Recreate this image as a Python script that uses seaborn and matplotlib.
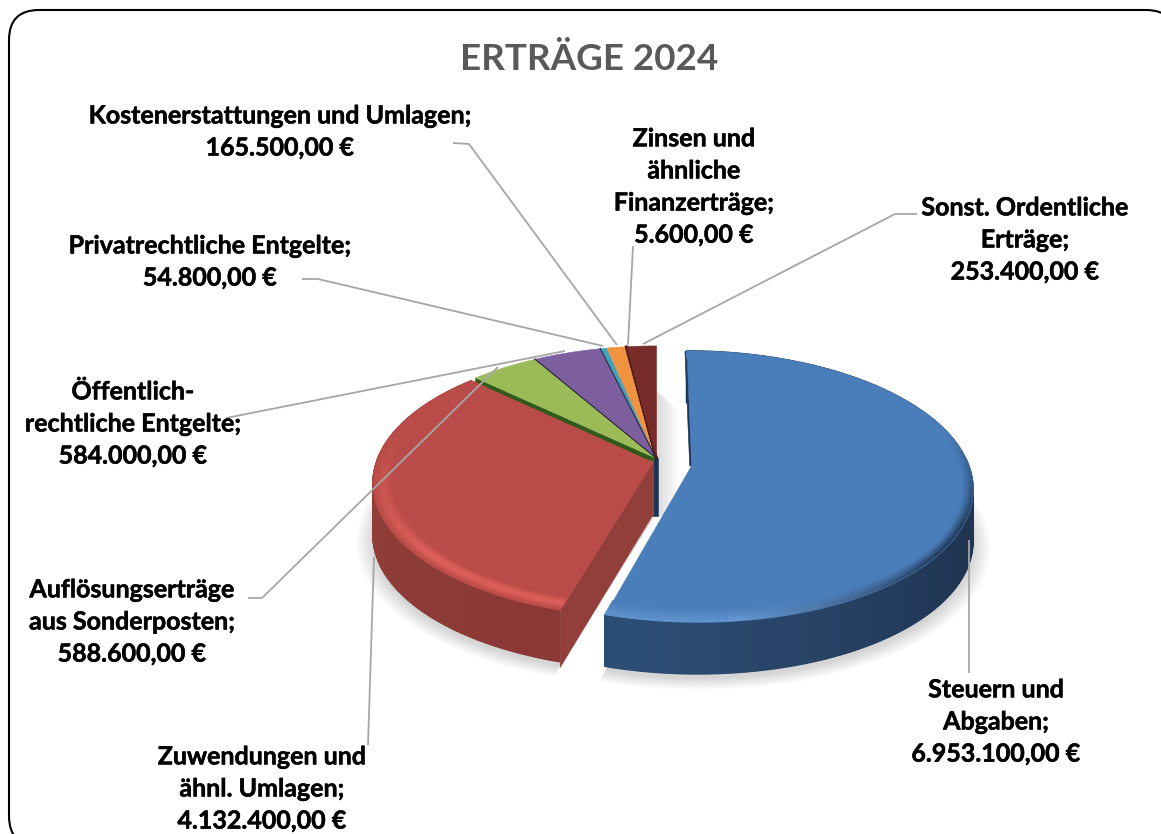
import numpy as np
import matplotlib
matplotlib.use("Agg")
import matplotlib.pyplot as plt
import matplotlib.patheffects as pe
from matplotlib.collections import PolyCollection
from matplotlib.colors import to_rgb
from matplotlib.patches import FancyBboxPatch
import seaborn as sns

# ---- data -------------------------------------------------------------
categories = ["Steuern und\nAbgaben;", "Zuwendungen und\nähnl. Umlagen;",
              "Auflösungserträge\naus Sonderposten;", "Öffentlich-\nrechtliche Entgelte;",
              "Privatrechtliche Entgelte;", "Kostenerstattungen und Umlagen;",
              "Zinsen und\nähnliche\nFinanzerträge;", "Sonst. Ordentliche\nErträge;"]
values = [6953100.0, 4132400.0, 588600.0, 584000.0, 54800.0, 165500.0, 5600.0, 253400.0]
value_labels = ["6.953.100,00 €", "4.132.400,00 €", "588.600,00 €", "584.000,00 €",
                "54.800,00 €", "165.500,00 €", "5.600,00 €", "253.400,00 €"]
title_text = "ERTRÄGE 2024"

# ---- style ------------------------------------------------------------
sns.set_theme(style="white")
plt.rcParams["font.family"] = ["Lato", "DejaVu Sans"]
palette = sns.color_palette(["#4a7ebb", "#b94c48", "#9bbb59", "#7d5fa0",
                             "#3fa3bd", "#f0923f", "#4d1a18", "#772c2a"])
FS = 18.0
W, H = 1161, 834

fig = plt.figure(figsize=(W / 100, H / 100), dpi=100)
ax = fig.add_axes([0, 0, 1, 1])
ax.set_xlim(0, W)
ax.set_ylim(H, 0)
ax.axis("off")

ax.add_patch(FancyBboxPatch((39, 40), 1107, 776, boxstyle="round,pad=30,rounding_size=30",
                            fc="white", ec="black", lw=1.5, zorder=0))

# ---- perspective model of the pie ---------------------------------------
CX, CY, A, B, K, DEPTH = 656.0, 458.0, 275.0, 130.0, 0.155, 52.0
# slice offsets in the pie's ground plane (blue and red are pulled out)
offset = {0: (0.127, -0.055), 1: (-0.012, -0.03)}


def project(theta, r, i, z=0.0):
    """theta in degrees clockwise from 12 o'clock, r in pie radii."""
    t = np.radians(theta)
    ox, oy = offset.get(i, (0.0, 0.0))
    X = r * np.sin(t) + ox
    Y = r * np.cos(t) + oy
    w = 1 + K * Y
    return np.column_stack([CX + A * X / w, CY - B * Y / w + z * np.ones_like(X)])


def mix(c1, c2, t):
    return tuple((1 - t) * np.array(to_rgb(c1)) + t * np.array(to_rgb(c2)))


fractions = np.array(values) / np.sum(values)
edges = np.concatenate([[0], np.cumsum(fractions) * 360])


def arc(a, b, step=1.0):
    n = max(int(np.ceil((b - a) / step)), 1)
    return np.linspace(a, b, n + 1)


def poly(verts, color, z, lw=0.4, alpha=None):
    ax.add_collection(PolyCollection([verts], facecolors=[color], edgecolors=[color],
                                     linewidths=lw, zorder=z, alpha=alpha))


# soft shadow beneath the pie
for i in (0, 1):
    th = arc(edges[i], edges[i + 1])
    for s in np.linspace(1.06, 1.0, 14):
        rim = project(th, s, i, DEPTH + 4)
        apex = project(np.array([0.0]), 0, i, DEPTH + 4)
        poly(np.vstack([apex, rim]), (0.5, 0.5, 0.5), 1, lw=0, alpha=0.022)
for s in np.linspace(22, 2, 12):
    apex = project(np.array([0.0]), 0, 2)[0]
    poly(np.array([[apex[0] - 4, apex[1] - 70], [apex[0] + s, apex[1] - 70 + s],
                   [apex[0] + s, apex[1] + DEPTH + 6], [apex[0] - 4, apex[1] + DEPTH + 6]]),
         (0.5, 0.5, 0.5), 1, lw=0, alpha=0.02)

# wall of the green slice and central column, seen in the gaps
a = edges[2]
inner = project(np.array([a]), 0, 2)
outer = project(np.array([a]), 1, 2)
poly(np.vstack([inner, outer, outer + [0, DEPTH], inner + [0, DEPTH]]), "#2f5a1a", 2)
apex = project(np.array([0.0]), 0, 2)[0]
poly(np.array([apex + [-4, 2], apex + [2, 0], apex + [2, 58], apex + [-4, 58]]), "#1f3555", 2.1)
poly(np.array([apex + [-7, 2], apex + [-3, 2], apex + [-3, 58], apex + [-7, 58]]), "#6b6a3a", 2.1)

# outer rims
rim_blue = ["#2c4d74", "#203552"]
rim_red = ["#8a3835", "#93403b"]
for i in (0, 1):
    th = arc(edges[i], edges[i + 1])
    top = project(th, 1, i)
    quads, cols = [], []
    for j in range(len(th) - 1):
        quads.append([top[j], top[j + 1], top[j + 1] + [0, DEPTH], top[j] + [0, DEPTH]])
        mid = 0.5 * (th[j] + th[j + 1])
        if i == 0:
            cols.append(mix(rim_blue[1], rim_blue[0], np.clip((mid - 120) / 70, 0, 1)))
        else:
            cols.append(mix(rim_red[0], rim_red[1], np.clip((mid - 200) / 80, 0, 1)))
    ax.add_collection(PolyCollection(quads, facecolors=cols, edgecolors=cols, linewidths=1.0, zorder=3))

# straight wall of the red slice and the dark rear wall of the blue one
a = edges[1]
inner, outer = project(np.array([a]), 0, 1), project(np.array([a]), 1, 1)
poly(np.vstack([inner, outer, outer + [0, DEPTH + 5], inner + [0, DEPTH]]), "#923e3a", 3.1)
inner, outer = project(np.array([0.0]), 0, 0), project(np.array([0.0]), 1, 0)
poly(np.vstack([inner + [-2, 0], outer + [-2, 0], outer, inner]), "#1f3555", 3.1)

# top faces
for i in range(len(values)):
    th = arc(edges[i], edges[i + 1])
    lw = 2.0 if values[i] == min(values) else 0.4
    apex_i = project(np.array([0.0]), 0, i)
    poly(np.vstack([apex_i, project(th, 1, i)]), palette[i], 4 if i > 1 else 5, lw=lw)

# bevel along the front of the rim
bevel_r = np.linspace(0.92, 1.0, 11)
for i in (0, 1):
    th = arc(edges[i], edges[i + 1])
    quads, cols = [], []
    for p in range(len(bevel_r) - 1):
        inner_r, outer_r = project(th, bevel_r[p], i), project(th, bevel_r[p + 1], i)
        prog = (p + 0.5) / (len(bevel_r) - 1)
        for j in range(len(th) - 1):
            mid = 0.5 * (th[j] + th[j + 1])
            if i == 1:
                strength = np.clip((285 - mid) / 55, 0, 1)
                glow = np.sin(np.pi * np.clip((prog - 0.1) / 0.9, 0, 1)) ** 1.5
                col = mix(palette[1], "#dd5f5a", glow * strength)
            else:
                on = np.clip((mid - 75) / 40, 0, 1)
                lit = np.clip((mid - 130) / 45, 0, 1)
                tone = mix(rim_blue[1], "#6d9fd8", lit)
                start = 0.5 * (1 - lit)
                amount = np.clip((prog - start) / (1 - start), 0, 1) ** 1.4
                col = mix(palette[0], tone, amount * on * (1 if lit < 1 else 0.7))
            quads.append([inner_r[j], inner_r[j + 1], outer_r[j + 1], outer_r[j]])
            cols.append(col)
    ax.add_collection(PolyCollection(quads, facecolors=cols, edgecolors=cols, linewidths=0.5, zorder=6))

# dark hairlines between the small slices
for i in (3, 4):
    p = project(np.array([edges[i], edges[i]]), np.array([0, 1.0]), i)
    ax.plot(p[:, 0], p[:, 1], color="#2c2540", lw=0.8, zorder=7)

# ---- leader lines -------------------------------------------------------
leaders = {
    0: [(969, 673), (969, 540)],
    1: [(368, 745), (374, 557)],
    2: [(248, 598), (262, 598), (498, 367)],
    3: [(226, 418), (565, 351)],
    4: [(302, 279), (318, 279), (603, 346)],
    5: [(453, 143), (469, 144), (617, 345)],
    6: [(633, 246), (628, 345)],
    7: [(917, 214), (895, 214), (643, 344)],
}
for pts in leaders.values():
    pts = np.array(pts)
    ax.plot(pts[:, 0], pts[:, 1], color="#a6a6a6", lw=1.3, zorder=8, solid_capstyle="butt")

# ---- labels -------------------------------------------------------------
label_xy = {0: (996, 722), 1: (262, 789), 2: (132, 622), 3: (133, 424),
            4: (210, 262), 5: (280, 132), 6: (694, 187), 7: (1025, 240)}
stroke = [pe.withStroke(linewidth=0.35, foreground="black")]
for i, (x, y) in label_xy.items():
    ax.text(x, y, categories[i] + "\n" + value_labels[i], ha="center", va="center",
            fontsize=FS, fontweight="bold", color="black", linespacing=1.48, zorder=9,
            path_effects=stroke)

ax.text(589, 59, title_text, ha="center", va="center", fontsize=26.5,
        fontweight="bold", color="#595959", zorder=9)

fig.savefig("out.png", dpi=100, facecolor="white")
